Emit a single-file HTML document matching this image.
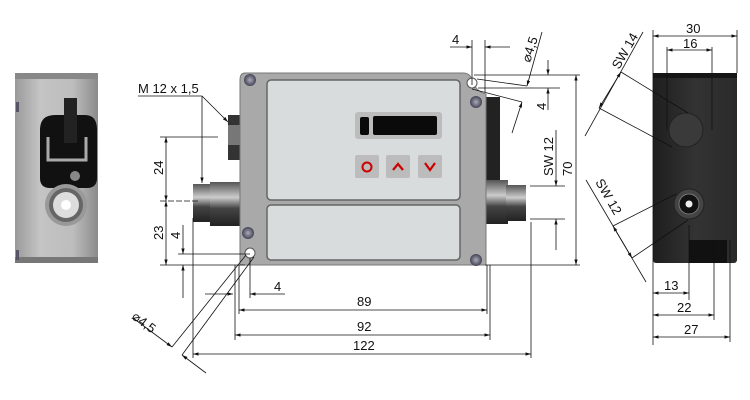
<!DOCTYPE html>
<html><head><meta charset="utf-8"><style>
html,body{margin:0;padding:0;background:#fff;width:750px;height:400px;overflow:hidden}
svg{display:block}
text{font-family:"Liberation Sans",Arial,sans-serif;font-size:13px;fill:#111}
</style></head><body>
<svg width="750" height="400" viewBox="0 0 750 400" xmlns="http://www.w3.org/2000/svg">
<defs>
<linearGradient id="lg" x1="0" x2="1"><stop offset="0" stop-color="#9a9a9a"/><stop offset="0.3" stop-color="#c4c4c4"/><stop offset="0.7" stop-color="#bdbdbd"/><stop offset="1" stop-color="#8a8a8a"/></linearGradient>
<linearGradient id="cyl" x1="0" y1="0" x2="0" y2="1"><stop offset="0" stop-color="#555"/><stop offset="0.35" stop-color="#ccc"/><stop offset="0.6" stop-color="#444"/><stop offset="1" stop-color="#222"/></linearGradient>
<linearGradient id="dk" x1="0" x2="1"><stop offset="0" stop-color="#1e1e1e"/><stop offset="0.5" stop-color="#333"/><stop offset="1" stop-color="#2a2a2a"/></linearGradient>
<radialGradient id="scr"><stop offset="0" stop-color="#aab"/><stop offset="1" stop-color="#445"/></radialGradient>
<marker id="a" viewBox="0 0 10 10" refX="10" refY="5" markerWidth="7" markerHeight="7" orient="auto-start-reverse"><path d="M0,2L10,5L0,8z" fill="#111"/></marker>
</defs>

<!-- LEFT VIEW -->
<rect x="15" y="73" width="83" height="190" fill="url(#lg)"/>
<rect x="15" y="73" width="83" height="6" fill="#888"/>
<rect x="15" y="257" width="83" height="6" fill="#777"/>
<rect x="16" y="102" width="3" height="10" fill="#556"/>
<rect x="16" y="250" width="3" height="10" fill="#556"/>
<path d="M40 130 Q40 115 55 115 L85 115 Q97 115 97 130 L97 178 Q97 188 87 188 L50 188 Q40 188 40 178 Z" fill="#111"/>
<rect x="64" y="98" width="13" height="45" fill="#222"/>
<path d="M48 137 L48 160 L86 160 L86 137" fill="none" stroke="#aaa" stroke-width="3"/>
<circle cx="75" cy="176" r="5" fill="#888"/>
<circle cx="66" cy="205" r="21" fill="#999"/>
<circle cx="66" cy="205" r="17" fill="#666"/>
<circle cx="66" cy="205" r="13" fill="#ddd"/>
<circle cx="66" cy="205" r="5" fill="#fff"/>

<!-- MAIN VIEW connectors -->
<rect x="228" y="115" width="12" height="45" fill="#333"/>
<rect x="228" y="125" width="12" height="20" fill="#777"/>
<rect x="193" y="184" width="18" height="38" fill="url(#cyl)"/>
<rect x="210" y="182" width="32" height="44" fill="url(#cyl)"/>
<rect x="486" y="97" width="14" height="88" fill="#222"/>
<rect x="486" y="180" width="22" height="44" fill="url(#cyl)"/>
<rect x="506" y="185" width="20" height="36" fill="url(#cyl)"/>

<!-- body -->
<path d="M245 73 L463 73 Q470 73 472 80 Q476 92 486 94 L486 265 L240 265 L240 80 Q240 73 245 73Z" fill="#a9a9a9" stroke="#777"/>
<rect x="267" y="80" width="193" height="120" rx="4" fill="#d9dcdc" stroke="#666" stroke-width="1.5"/>
<rect x="267" y="205" width="193" height="55" rx="4" fill="#d9dcdc" stroke="#666" stroke-width="1.5"/>
<rect x="355" y="112" width="87" height="27" rx="3" fill="#bcbcbc"/>
<rect x="360" y="117" width="9" height="18" rx="2" fill="#0a0a0a"/>
<rect x="373" y="116" width="64" height="19" rx="2" fill="#0a0a0a"/>
<rect x="355" y="155" width="24" height="23" rx="2" fill="#bcbcbc"/>
<rect x="386" y="155" width="24" height="23" rx="2" fill="#bcbcbc"/>
<rect x="418" y="155" width="24" height="23" rx="2" fill="#bcbcbc"/>
<circle cx="367" cy="167" r="4.5" fill="none" stroke="#c00" stroke-width="2"/>
<path d="M393 170 L398 164 L403 170" fill="none" stroke="#c00" stroke-width="2.2"/>
<path d="M425 163 L430 170 L435 163" fill="none" stroke="#c00" stroke-width="2.2"/>
<circle cx="250" cy="80" r="6" fill="url(#scr)"/>
<circle cx="476" cy="102" r="6" fill="url(#scr)"/>
<circle cx="248" cy="233" r="6" fill="url(#scr)"/>
<circle cx="476" cy="260" r="6" fill="url(#scr)"/>
<circle cx="472" cy="83" r="5" fill="#fff" stroke="#555"/>
<circle cx="250" cy="253" r="5" fill="#fff" stroke="#555"/>

<!-- RIGHT VIEW -->
<rect x="653" y="73" width="84" height="190" rx="3" fill="url(#dk)"/>
<rect x="653" y="73" width="84" height="5" fill="#151515"/>
<rect x="689" y="240" width="38" height="23" fill="#111"/>
<circle cx="686" cy="130" r="17" fill="#3a3a3a" stroke="#222"/>
<circle cx="689" cy="204" r="15" fill="#444" stroke="#222"/>
<circle cx="689" cy="204" r="10" fill="#111" stroke="#777"/>
<circle cx="689" cy="204" r="3.5" fill="#eee"/>

<g stroke="#111" stroke-width="0.8" fill="none">
<line x1="160" y1="137" x2="218" y2="137"/>
<line x1="160" y1="201" x2="200" y2="201" stroke-dasharray="6 2"/>
<line x1="160" y1="265" x2="245" y2="265"/>
<line x1="166" y1="137" x2="166" y2="201" marker-start="url(#a)" marker-end="url(#a)"/>
<line x1="166" y1="201" x2="166" y2="265" marker-start="url(#a)" marker-end="url(#a)"/>
<line x1="178" y1="254" x2="250" y2="254"/>
<line x1="183" y1="225" x2="183" y2="254" marker-end="url(#a)"/>
<line x1="183" y1="298" x2="183" y2="265" marker-end="url(#a)"/>
<line x1="138" y1="96" x2="202" y2="96"/>
<line x1="202" y1="96" x2="228" y2="122" marker-end="url(#a)"/>
<line x1="202" y1="96" x2="202" y2="183" marker-end="url(#a)"/>
<line x1="193" y1="218" x2="193" y2="358"/>
<line x1="235" y1="265" x2="235" y2="340"/>
<line x1="239" y1="265" x2="239" y2="314"/>
<line x1="250" y1="258" x2="250" y2="298"/>
<line x1="487" y1="265" x2="487" y2="314"/>
<line x1="490" y1="265" x2="490" y2="340"/>
<line x1="531" y1="222" x2="531" y2="358"/>
<line x1="485" y1="265" x2="580" y2="265"/>
<line x1="205" y1="294" x2="233" y2="294" marker-end="url(#a)"/>
<line x1="285" y1="294" x2="250" y2="294" marker-end="url(#a)"/>
<line x1="239" y1="310" x2="487" y2="310" marker-start="url(#a)" marker-end="url(#a)"/>
<line x1="235" y1="335" x2="490" y2="335" marker-start="url(#a)" marker-end="url(#a)"/>
<line x1="193" y1="354" x2="531" y2="354" marker-start="url(#a)" marker-end="url(#a)"/>
<line x1="246" y1="255" x2="172" y2="347"/>
<line x1="254" y1="257" x2="182" y2="355"/>
<line x1="133" y1="318" x2="172" y2="347" marker-end="url(#a)"/>
<line x1="206" y1="373" x2="182" y2="355" marker-end="url(#a)"/>
<line x1="472" y1="40" x2="472" y2="85"/>
<line x1="485" y1="40" x2="485" y2="92"/>
<line x1="450" y1="47" x2="472" y2="47" marker-end="url(#a)"/>
<line x1="510" y1="47" x2="485" y2="47" marker-end="url(#a)"/>
<line x1="474" y1="75" x2="580" y2="75"/>
<line x1="478" y1="88" x2="560" y2="88"/>
<line x1="477" y1="79" x2="527" y2="86"/>
<line x1="472" y1="89" x2="522" y2="102"/>
<line x1="542" y1="32" x2="527" y2="86" marker-end="url(#a)"/>
<line x1="512" y1="133" x2="522" y2="102" marker-end="url(#a)"/>
<line x1="548" y1="60" x2="548" y2="75" marker-end="url(#a)"/>
<line x1="548" y1="110" x2="548" y2="88" marker-end="url(#a)"/>
<line x1="576" y1="75" x2="576" y2="265" marker-start="url(#a)" marker-end="url(#a)"/>
<line x1="530" y1="186" x2="565" y2="186"/>
<line x1="530" y1="219" x2="565" y2="219"/>
<line x1="556" y1="130" x2="556" y2="186" marker-end="url(#a)"/>
<line x1="556" y1="250" x2="556" y2="219" marker-end="url(#a)"/>
<line x1="653" y1="30" x2="653" y2="345"/>
<line x1="737" y1="30" x2="737" y2="73"/>
<line x1="667" y1="47" x2="667" y2="130"/>
<line x1="712" y1="47" x2="712" y2="130"/>
<line x1="689" y1="225" x2="689" y2="300"/>
<line x1="714" y1="240" x2="714" y2="320"/>
<line x1="730" y1="240" x2="730" y2="342"/>
<line x1="653" y1="36" x2="737" y2="36" marker-start="url(#a)" marker-end="url(#a)"/>
<line x1="667" y1="50" x2="712" y2="50" marker-start="url(#a)" marker-end="url(#a)"/>
<line x1="653" y1="293" x2="689" y2="293" marker-start="url(#a)" marker-end="url(#a)"/>
<line x1="653" y1="315" x2="714" y2="315" marker-start="url(#a)" marker-end="url(#a)"/>
<line x1="653" y1="337" x2="730" y2="337" marker-start="url(#a)" marker-end="url(#a)"/>
<line x1="643" y1="32" x2="585" y2="136"/>
<line x1="621" y1="72" x2="688" y2="113"/>
<line x1="599" y1="108" x2="672" y2="147"/>
<line x1="621" y1="72" x2="599" y2="108" marker-start="url(#a)" marker-end="url(#a)"/>
<line x1="586" y1="180" x2="646" y2="282"/>
<line x1="613" y1="226" x2="676" y2="194"/>
<line x1="632" y1="258" x2="688" y2="220"/>
<line x1="613" y1="226" x2="632" y2="258" marker-start="url(#a)" marker-end="url(#a)"/>
</g>

<text x="138" y="93">M 12 x 1,5</text>
<text transform="translate(163,175) rotate(-90)">24</text>
<text transform="translate(163,240) rotate(-90)">23</text>
<text transform="translate(180,239) rotate(-90)">4</text>
<text x="274" y="291">4</text>
<text x="357" y="306">89</text>
<text x="357" y="331">92</text>
<text x="353" y="350">122</text>
<text transform="translate(131,318) rotate(37)">⌀4,5</text>
<text x="452" y="44">4</text>
<text transform="translate(530,63) rotate(-72)">⌀4,5</text>
<text transform="translate(546,110) rotate(-90)">4</text>
<text transform="translate(553,176) rotate(-90)">SW 12</text>
<text transform="translate(572,176) rotate(-90)">70</text>
<text x="686" y="33">30</text>
<text x="683" y="48">16</text>
<text x="664" y="290">13</text>
<text x="677" y="312">22</text>
<text x="684" y="334">27</text>
<text transform="translate(619,70) rotate(-60)">SW 14</text>
<text transform="translate(595,182) rotate(60)">SW 12</text>
</svg>
</body></html>
